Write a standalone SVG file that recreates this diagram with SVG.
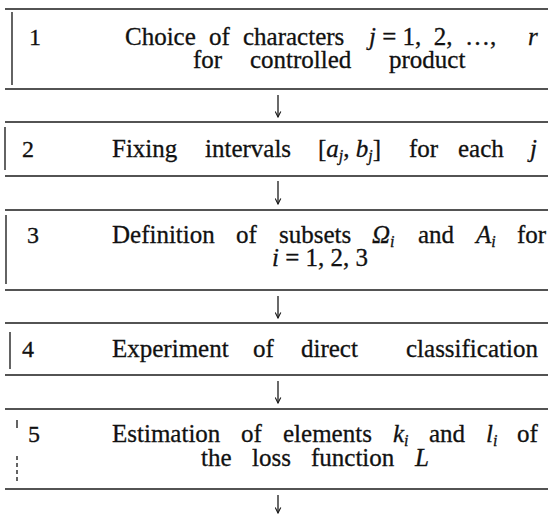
<svg xmlns="http://www.w3.org/2000/svg" width="548" height="515" viewBox="0 0 548 515">
<style>
.rule{stroke:#1a1a1a;stroke-width:1.6;fill:none}
.side{stroke:#222;stroke-width:1.4;fill:none}
.txt{font-family:"Liberation Serif","Times New Roman",serif;font-size:25px;fill:#111;stroke:#111;stroke-width:0.3}
.num{font-family:"Liberation Serif","Times New Roman",serif;font-size:24px;fill:#111;stroke:#111;stroke-width:0.3}
.it{font-style:italic}
.sub{font-style:italic;font-size:16px}
.arr{stroke:#1a1a1a;stroke-width:1.3;fill:none}
</style>
<defs>
<marker id="ah" viewBox="0 0 10 10" refX="9" refY="5" markerWidth="7" markerHeight="7" orient="auto" markerUnits="userSpaceOnUse">
<path d="M1,1 L9,5 L1,9" stroke="#1a1a1a" stroke-width="1.6" fill="none"/>
</marker>
</defs>
<rect width="548" height="515" fill="#fff"/>
<g id="node1">
<line class="rule" x1="5" y1="9" x2="548" y2="9"/>
<line class="rule" x1="5" y1="89" x2="548" y2="89"/>
<line class="side" x1="12" y1="12" x2="12" y2="85"/>
<text class="num" x="29" y="45">1</text>
<text class="txt" y="45"><tspan x="125">Choice</tspan><tspan x="209">of</tspan><tspan x="243">characters</tspan><tspan x="369" class="it">j</tspan><tspan> = 1,&#160; 2,&#160; …,</tspan><tspan x="528" class="it">r</tspan></text>
<text class="txt" y="68"><tspan x="193">for</tspan><tspan x="250">controlled</tspan><tspan x="389">product</tspan></text>
</g>
<g id="node2">
<line class="rule" x1="5" y1="122" x2="548" y2="122"/>
<line class="rule" x1="5" y1="176" x2="548" y2="176"/>
<line class="side" x1="5" y1="127" x2="5" y2="170"/>
<text class="num" x="22" y="157">2</text>
<text class="txt" y="157"><tspan x="112">Fixing</tspan><tspan x="205">intervals</tspan><tspan x="318">[</tspan><tspan class="it">a</tspan><tspan class="sub" dy="4">j</tspan><tspan dy="-4">, </tspan><tspan class="it">b</tspan><tspan class="sub" dy="4">j</tspan><tspan dy="-4">]</tspan><tspan x="409">for</tspan><tspan x="458">each</tspan><tspan x="530" class="it">j</tspan></text>
</g>
<g id="node3">
<line class="rule" x1="5" y1="210" x2="548" y2="210"/>
<line class="rule" x1="5" y1="290" x2="548" y2="290"/>
<line class="side" x1="6" y1="215" x2="6" y2="284"/>
<text class="num" x="27" y="243">3</text>
<text class="txt" y="243"><tspan x="112">Definition</tspan><tspan x="236">of</tspan><tspan x="279">subsets</tspan><tspan x="372" class="it">Ω</tspan><tspan class="sub" dy="4">i</tspan><tspan x="418" dy="-4">and</tspan><tspan x="476" class="it">A</tspan><tspan class="sub" dy="4">i</tspan><tspan x="517" dy="-4">for</tspan></text>
<text class="txt" y="266"><tspan x="272" class="it">i</tspan><tspan> = 1, 2, 3</tspan></text>
</g>
<g id="node4">
<line class="rule" x1="5" y1="323" x2="548" y2="323"/>
<line class="rule" x1="5" y1="375" x2="548" y2="375"/>
<line class="side" x1="10" y1="332" x2="10" y2="369"/>
<text class="num" x="22" y="357">4</text>
<text class="txt" y="357"><tspan x="112">Experiment</tspan><tspan x="253">of</tspan><tspan x="301">direct</tspan><tspan x="406">classification</tspan></text>
</g>
<g id="node5">
<line class="rule" x1="5" y1="409" x2="548" y2="409"/>
<line class="rule" x1="5" y1="489" x2="548" y2="489"/>
<line class="side" x1="17" y1="420" x2="17" y2="428" stroke-width="1"/>
<line class="side" x1="17" y1="456" x2="17" y2="482" stroke-width="1" stroke-dasharray="4 3"/>
<text class="num" x="28" y="442">5</text>
<text class="txt" y="442"><tspan x="112">Estimation</tspan><tspan x="241">of</tspan><tspan x="283">elements</tspan><tspan x="393" class="it">k</tspan><tspan class="sub" dy="4">i</tspan><tspan x="429" dy="-4">and</tspan><tspan x="486" class="it">l</tspan><tspan class="sub" dy="4">i</tspan><tspan x="517" dy="-4">of</tspan></text>
<text class="txt" y="466"><tspan x="201">the</tspan><tspan x="252">loss</tspan><tspan x="311">function</tspan><tspan x="415" class="it">L</tspan></text>
</g>
<g id="connectors">
<line class="arr" x1="278" y1="95" x2="278" y2="117" marker-end="url(#ah)"/>
<line class="arr" x1="278" y1="181" x2="278" y2="204" marker-end="url(#ah)"/>
<line class="arr" x1="278" y1="296" x2="278" y2="318" marker-end="url(#ah)"/>
<line class="arr" x1="278" y1="381" x2="278" y2="403" marker-end="url(#ah)"/>
<line class="arr" x1="278" y1="495" x2="278" y2="513" marker-end="url(#ah)"/>
</g>
</svg>
